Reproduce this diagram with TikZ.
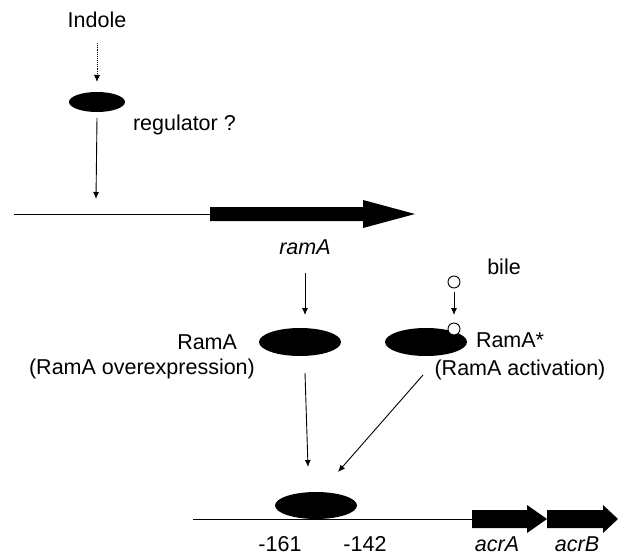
\documentclass[tikz,border=0pt]{standalone}
\usepackage{fontspec}
\setmainfont{Liberation Sans}
\usetikzlibrary{shapes.geometric,arrows.meta}
\begin{document}
\begin{tikzpicture}[x=1pt, y=-1pt, inner sep=0pt, outer sep=0pt,
	blob/.style={ellipse, fill=black, minimum width=82, minimum height=28},
	lbl/.style={font=\fontsize{21.5}{26}\selectfont},
	ital/.style={font=\fontsize{21.5}{26}\selectfont\itshape},
	arr/.style={-{Latex[length=7pt,width=6pt]}, line width=0.9},
	bead/.style={circle, draw=black, fill=white, line width=0.9, minimum size=12}]
\useasboundingbox (0,0) rectangle (618,556);
	% indole and its regulator
	\node[lbl] (indole) at (97,20) {Indole};
	\node[blob, minimum width=56, minimum height=20] (reg) at (97,102) {};
	\node[lbl, anchor=west] (regtxt) at (133,125) {regulator ?};
	\coordinate (rampro) at (96,199);
	\draw[arr, densely dotted] ([yshift=-15pt]indole.south) -- ([yshift=10pt]reg.north);
	\draw[arr] ([yshift=-6pt]reg.south) -- (rampro);
	\draw[line width=0.9] (14,214) -- (210,214);
	\fill (210,207) -- (363,207) -- (363,200) -- (415,214) -- (363,228) -- (363,221) -- (210,221) -- cycle;
	% RamA and RamA*
	\node[ital] (ramA) at (305,247) {ramA};
	\node[blob] (rama) at (300,342) {};
	\node[blob] (ramas) at (426,342) {};
	\node[lbl, anchor=east] (ramatxt) at (237,342) {RamA};
	\node[lbl] (ramaover) at (142,369) {(RamA overexpression)};
	\node[bead] (bile1) at (454,282) {};
	\node[bead] (bile2) at (454,329) {};
	\node[lbl] (bile) at (504,267) {bile};
	\node[lbl, anchor=west] (ramastxt) at (476,340) {RamA*};
	\node[lbl] (ramasact) at (520,370) {(RamA activation)};
	\draw[arr] ([yshift=-18pt]ramA.south) -- ([xshift=5pt,yshift=13pt]rama.north);
	\draw[arr, shorten <=4pt, shorten >=8pt] (bile1) -- (bile2);
	% acrAB promoter
	\node[blob, minimum height=27] (bind) at (316,505.5) {};
	\draw[arr] ([xshift=5pt,yshift=-17pt]rama.south) -- ([xshift=-8pt,yshift=25pt]bind.north);
	\draw[arr] ([xshift=-3pt,yshift=-19pt]ramas.south) -- ([xshift=22pt,yshift=20pt]bind.north);
	\draw[line width=0.9] (193,519) -- (472,519);
	\fill (472,510) -- (527,510) -- (527,505) -- (547,519) -- (527,533) -- (527,528) -- (472,528) -- cycle;
	\fill (547,510) -- (603,510) -- (603,505) -- (618,519) -- (603,533) -- (603,528) -- (547,528) -- cycle;
	\node[lbl] (m161) at (280,544) {-161};
	\node[lbl] (m142) at (365,544) {-142};
	\node[ital] (acrA) at (497,544) {acrA};
	\node[ital] (acrB) at (577,544) {acrB};
\end{tikzpicture}
\end{document}
